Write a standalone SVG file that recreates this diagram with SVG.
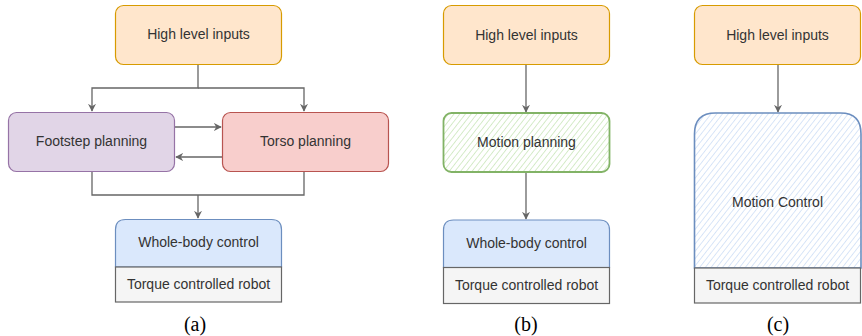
<svg xmlns="http://www.w3.org/2000/svg" width="862" height="336" viewBox="0 0 862 336">
<style>
.t{font-family:"Liberation Sans",Arial,sans-serif;font-size:14px;fill:#333333;text-anchor:middle}
.cap{font-family:"Liberation Serif","Times New Roman",serif;font-size:20px;fill:#000;text-anchor:middle}
.c{fill:none;stroke:#666666;stroke-width:1.3}
.org{fill:#ffe6cc;stroke:#d79b00;stroke-width:1.2}
.pur{fill:#e1d5e7;stroke:#9673a6;stroke-width:1.2}
.red{fill:#f8cecc;stroke:#b85450;stroke-width:1.2}
.blu{fill:#dae8fc;stroke:#6c8ebf;stroke-width:1.2}
.gry{fill:#f5f5f5;stroke:#666666;stroke-width:1.2}
</style>
<defs>
<marker id="ah" viewBox="0 0 10 10" refX="9" refY="5" markerWidth="8" markerHeight="8" markerUnits="userSpaceOnUse" orient="auto">
<path d="M0,0 L10,5 L0,10 L3,5 Z" fill="#666666"/>
</marker>
<pattern id="hg" patternUnits="userSpaceOnUse" width="4.5" height="6" patternTransform="rotate(38)">
<rect width="4.5" height="6" fill="#ffffff"/>
<line x1="0" y1="0" x2="0" y2="6" stroke="#c5e4b5" stroke-width="1.4"/>
</pattern>
<pattern id="hb" patternUnits="userSpaceOnUse" width="4.5" height="6" patternTransform="rotate(38)">
<rect width="4.5" height="6" fill="#ffffff"/>
<line x1="0" y1="0" x2="0" y2="6" stroke="#c9dcf5" stroke-width="1.4"/>
</pattern>
</defs>

<g id="connectors">
<path class="c" d="M198,65 V88 H92 V111" marker-end="url(#ah)"/>
<path class="c" d="M198,88 H304 V111" marker-end="url(#ah)"/>
<path class="c" d="M175,127 H221" marker-end="url(#ah)"/>
<path class="c" d="M222,157 H176" marker-end="url(#ah)"/>
<path class="c" d="M92,172 V195 H304 V172"/>
<path class="c" d="M198,195 V218" marker-end="url(#ah)"/>
<path class="c" d="M526,65 V112" marker-end="url(#ah)"/>
<path class="c" d="M526,172 V219" marker-end="url(#ah)"/>
<path class="c" d="M778,65 V112" marker-end="url(#ah)"/>
</g>

<g id="a-high">
<rect class="org" x="115.5" y="5.5" width="166" height="59" rx="8"/>
<text class="t" x="198.5" y="39">High level inputs</text>
</g>
<g id="a-footstep">
<rect class="pur" x="8.5" y="112.5" width="166" height="59" rx="8"/>
<text class="t" x="91.5" y="146">Footstep planning</text>
</g>
<g id="a-torso">
<rect class="red" x="222.5" y="112.5" width="166" height="59" rx="8"/>
<text class="t" x="305.5" y="146">Torso planning</text>
</g>
<g id="a-wbc">
<path class="blu" d="M115.5,267 V229.5 Q115.5,219.5 125.5,219.5 H271.5 Q281.5,219.5 281.5,229.5 V267 Z"/>
<text class="t" x="198.5" y="247">Whole-body control</text>
</g>
<g id="a-robot">
<rect class="gry" x="115.5" y="267" width="166" height="35"/>
<text class="t" x="198.5" y="289">Torque controlled robot</text>
</g>
<text class="cap" x="195" y="331">(a)</text>

<g id="b-high">
<rect class="org" x="443.5" y="5.5" width="166" height="59" rx="8"/>
<text class="t" x="526.5" y="40">High level inputs</text>
</g>
<g id="b-motion">
<rect x="443.5" y="113" width="166" height="59" rx="8" fill="url(#hg)" stroke="#82b366" stroke-width="1.8"/>
<text class="t" x="526.5" y="147">Motion planning</text>
</g>
<g id="b-wbc">
<path class="blu" d="M443.5,267.5 V230 Q443.5,220 453.5,220 H599.5 Q609.5,220 609.5,230 V267.5 Z"/>
<text class="t" x="526.5" y="248">Whole-body control</text>
</g>
<g id="b-robot">
<rect class="gry" x="443.5" y="267.5" width="166" height="36"/>
<text class="t" x="526.5" y="290">Torque controlled robot</text>
</g>
<text class="cap" x="526" y="331">(b)</text>

<g id="c-high">
<rect class="org" x="694.5" y="5.5" width="166" height="59" rx="8"/>
<text class="t" x="777.5" y="40">High level inputs</text>
</g>
<g id="c-motion">
<path d="M694.5,268 V134 Q694.5,113 715.5,113 H840.5 Q861,113 861,134 V268 Z" fill="url(#hb)" stroke="#6c8ebf" stroke-width="1.6"/>
<text class="t" x="777.5" y="207">Motion Control</text>
</g>
<g id="c-robot">
<rect class="gry" x="694.5" y="268" width="166" height="35"/>
<text class="t" x="777.5" y="290">Torque controlled robot</text>
</g>
<text class="cap" x="778" y="331">(c)</text>
</svg>
